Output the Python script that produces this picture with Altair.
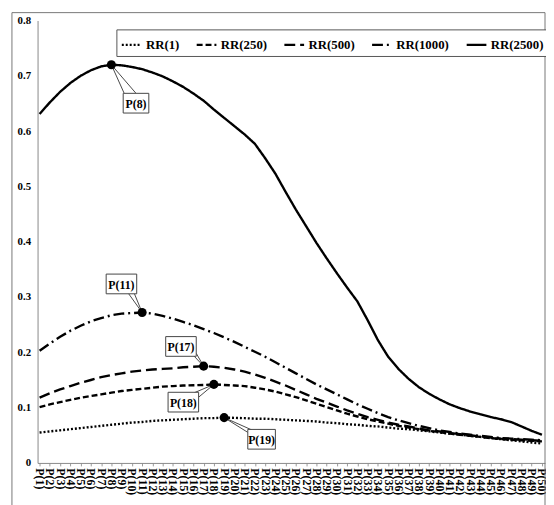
import json
import altair as alt
import pandas as pd

cats = [f"P({i})" for i in range(1, 51)]
series_names = ["RR(1)", "RR(250)", "RR(500)", "RR(1000)", "RR(2500)"]

rr1 = [0.055, 0.057, 0.059, 0.061, 0.063, 0.065, 0.067, 0.069, 0.071, 0.073,
       0.074, 0.076, 0.077, 0.078, 0.079, 0.080, 0.081, 0.081, 0.082, 0.0815,
       0.081, 0.080, 0.080, 0.079, 0.078, 0.077, 0.076, 0.075, 0.073, 0.072,
       0.070, 0.069, 0.067, 0.066, 0.064, 0.062, 0.061, 0.059, 0.057, 0.055,
       0.053, 0.051, 0.049, 0.047, 0.045, 0.043, 0.041, 0.039, 0.037, 0.035]
rr250 = [0.101, 0.106, 0.110, 0.114, 0.118, 0.121, 0.124, 0.127, 0.130, 0.132,
         0.134, 0.136, 0.138, 0.139, 0.140, 0.1405, 0.141, 0.142, 0.141, 0.140,
         0.139, 0.136, 0.133, 0.129, 0.124, 0.119, 0.113, 0.107, 0.101, 0.095,
         0.089, 0.084, 0.079, 0.075, 0.071, 0.067, 0.064, 0.061, 0.058, 0.056,
         0.053, 0.051, 0.049, 0.047, 0.045, 0.043, 0.042, 0.041, 0.040, 0.039]
rr500 = [0.118, 0.126, 0.133, 0.139, 0.145, 0.150, 0.155, 0.159, 0.162, 0.165,
         0.167, 0.169, 0.170, 0.171, 0.173, 0.174, 0.175, 0.174, 0.172, 0.169,
         0.165, 0.160, 0.154, 0.147, 0.140, 0.132, 0.124, 0.116, 0.109, 0.102,
         0.095, 0.089, 0.083, 0.078, 0.073, 0.069, 0.066, 0.062, 0.059, 0.057,
         0.054, 0.052, 0.050, 0.048, 0.046, 0.044, 0.043, 0.042, 0.041, 0.040]
rr1000 = [0.203, 0.216, 0.228, 0.239, 0.248, 0.256, 0.262, 0.267, 0.270, 0.271,
          0.272, 0.270, 0.266, 0.261, 0.255, 0.249, 0.242, 0.235, 0.227, 0.219,
          0.210, 0.201, 0.192, 0.182, 0.172, 0.162, 0.152, 0.142, 0.133, 0.124,
          0.115, 0.106, 0.098, 0.090, 0.083, 0.077, 0.072, 0.067, 0.063, 0.059,
          0.056, 0.053, 0.051, 0.049, 0.047, 0.045, 0.044, 0.043, 0.042, 0.041]
rr2500 = [0.631, 0.652, 0.671, 0.687, 0.700, 0.710, 0.717, 0.720, 0.719, 0.716,
          0.712, 0.706, 0.699, 0.690, 0.680, 0.668, 0.655, 0.639, 0.624, 0.609,
          0.594, 0.577, 0.551, 0.523, 0.490, 0.458, 0.428, 0.398, 0.370, 0.343,
          0.317, 0.292, 0.258, 0.222, 0.192, 0.170, 0.152, 0.137, 0.125, 0.115,
          0.106, 0.099, 0.093, 0.088, 0.083, 0.079, 0.074, 0.066, 0.058, 0.051]

y_ticks = [0, 0.1, 0.2, 0.3, 0.4, 0.5, 0.6, 0.7, 0.8]

values = {"RR(1)": rr1, "RR(250)": rr250, "RR(500)": rr500,
          "RR(1000)": rr1000, "RR(2500)": rr2500}

rows = [{"series": s, "idx": i + 1, "value": v}
        for s in series_names for i, v in enumerate(values[s])]
df = pd.DataFrame(rows)

# peak annotations (label, series, category index) + callout layout (pixels)
annotations = [
    {"label": "P(8)", "series": "RR(2500)", "idx": 8, "dx": 25, "dy": 39, "w": 26,
     "wedge": [(13, 29), (25, 29)]},
    {"label": "P(11)", "series": "RR(1000)", "idx": 11, "dx": -21, "dy": -29, "w": 31,
     "wedge": [(-14, -19.5), (-8, -19.5)]},
    {"label": "P(17)", "series": "RR(500)", "idx": 17, "dx": -23, "dy": -20, "w": 31,
     "wedge": [(-10, -10.5), (-7.5, -13)]},
    {"label": "P(18)", "series": "RR(250)", "idx": 18, "dx": -31, "dy": 18, "w": 31,
     "wedge": [(-20, 8.5), (-15.5, 13)]},
    {"label": "P(19)", "series": "RR(1)", "idx": 19, "dx": 38, "dy": 22, "w": 28,
     "wedge": [(24, 15), (28, 12.5)]},
]

FONT = "Liberation Serif"
W, H = 515, 449
BOX_H = 20

x_enc = alt.X(
    "idx:Q",
    scale=alt.Scale(domain=[0.8, 50.3], nice=False, zero=False),
    axis=alt.Axis(
        values=list(range(1, 51)),
        labelExpr=f"{json.dumps(cats)}[datum.value - 1]",
        labelAngle=90, labelAlign="left", labelBaseline="middle",
        labelOverlap=False, labelFlush=False, labelBound=False,
        labelFont=FONT, labelFontWeight="bold", labelFontSize=12,
        labelColor="black", labelPadding=2,
        tickSize=3, tickColor="#999", domainColor="#888",
        grid=False, title=None,
    ),
)
y_enc = alt.Y(
    "value:Q",
    scale=alt.Scale(domain=[0, 0.8], nice=False),
    axis=alt.Axis(
        values=y_ticks,
        labelExpr="datum.value == 0 ? '0' : format(datum.value, '.1f')",
        labelFont=FONT, labelFontWeight="bold", labelFontSize=11,
        labelColor="black", labelPadding=7,
        ticks=False, domainColor="#888", grid=False, title=None,
    ),
)

lines = alt.Chart(df).mark_line(color="black", strokeWidth=2.4).encode(
    x=x_enc,
    y=y_enc,
    strokeDash=alt.StrokeDash(
        "series:N",
        scale=alt.Scale(domain=series_names,
                        range=[[2, 2], [6, 3], [11, 5], [11, 4, 2, 4], [1, 0]]),
        sort=series_names,
        legend=alt.Legend(
            orient="none", legendX=80, legendY=9, direction="horizontal",
            columns=5, title=None, symbolType="stroke", symbolStrokeWidth=2.4,
            symbolSize=400, symbolStrokeColor="black",
            labelFont=FONT, labelFontWeight="bold", labelFontSize=13,
            labelColor="black", labelOffset=3,
            strokeColor="#555", fillColor="white", padding=4, columnPadding=12,
        ),
    ),
    order="idx:Q",
)

frame = alt.Chart(pd.DataFrame({"a": [0]})).mark_rect(
    fillOpacity=0, stroke="#777", strokeWidth=1
).encode(x=alt.value(-26), x2=alt.value(515), y=alt.value(-8), y2=alt.value(540))

layers = [lines, frame]
peak_rows = []
for a in annotations:
    v = values[a["series"]][a["idx"] - 1]
    pdf = pd.DataFrame({"idx": [a["idx"]], "value": [v], "label": [a["label"]]})
    peak_rows.append({"idx": a["idx"], "value": v})
    base = alt.Chart(pdf)
    for (wx, wy) in a["wedge"]:
        layers.append(
            base.mark_rule(color="#333", strokeWidth=0.9, x2Offset=wx, y2Offset=wy).encode(
                x=x_enc, x2="idx:Q", y=y_enc, y2="value:Q"
            )
        )
    w = a["w"]
    layers.append(
        base.mark_rect(
            fill="white", stroke="#444", strokeWidth=1,
            xOffset=a["dx"] - w / 2, x2Offset=a["dx"] + w / 2,
            yOffset=a["dy"] - BOX_H / 2, y2Offset=a["dy"] + BOX_H / 2,
        ).encode(x=x_enc, x2="idx:Q", y=y_enc, y2="value:Q")
    )
    layers.append(
        base.mark_text(
            dx=a["dx"], dy=a["dy"] + 1, font=FONT, fontWeight="bold", fontSize=12,
            color="black", align="center", baseline="middle",
        ).encode(x=x_enc, y=y_enc, text="label:N")
    )

peaks = alt.Chart(pd.DataFrame(peak_rows)).mark_circle(
    color="black", size=85, opacity=1
).encode(x=x_enc, y=y_enc)
layers.append(peaks)

chart = alt.layer(*layers).properties(
    width=W, height=H,
    autosize=alt.AutoSizeParams(type="none"),
    padding={"left": 30, "top": 9, "right": 1, "bottom": 40},
    background="white",
).configure_view(stroke=None).configure_axis(labelOverlap=False)

chart.save("out.html", embed_options={"renderer": "svg", "actions": False})
